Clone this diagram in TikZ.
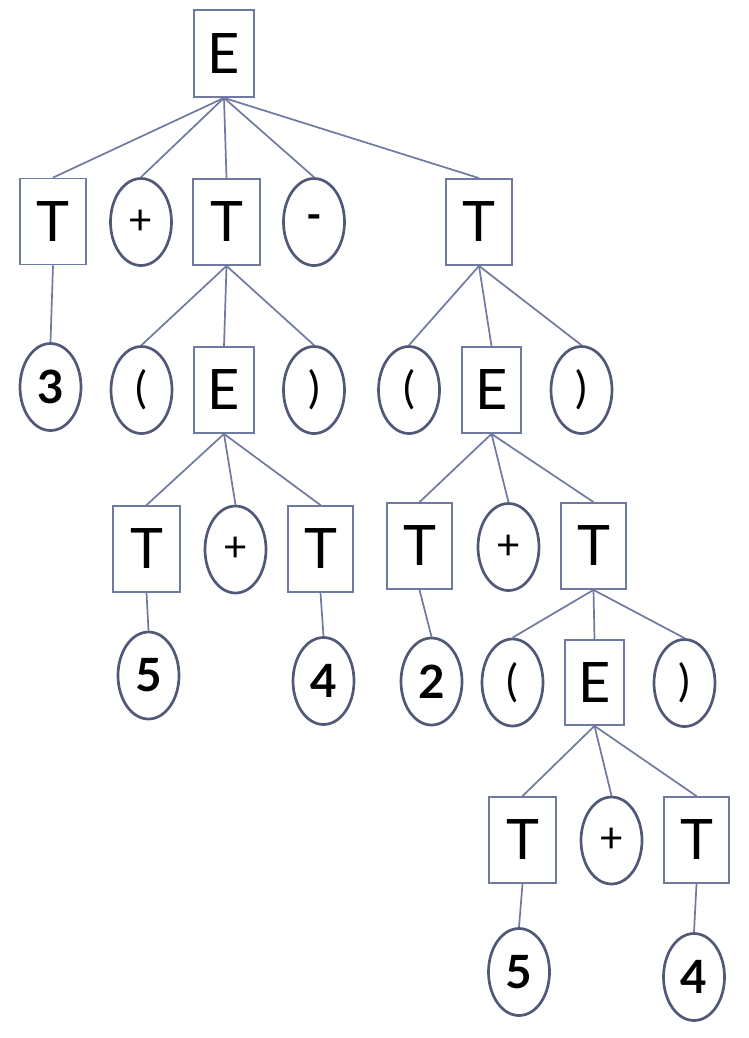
\documentclass[tikz,border=0pt]{standalone}
\usepackage{fontspec}
\setmainfont{Lato}
\usetikzlibrary{shapes.geometric}
\definecolor{rectc}{HTML}{6F79A1}
\definecolor{ellc}{HTML}{525877}
\definecolor{edgec}{HTML}{6F79A1}
\tikzset{
  nt/.style={draw=rectc, line width=1.8bp, fill=white, minimum width=66bp, minimum height=86bp, inner sep=0pt, font=\fontsize{56}{56}\selectfont},
  leaf/.style={ellipse, draw=ellc, line width=2.7bp, fill=white, minimum width=61bp, minimum height=87bp, inner sep=0pt},
  dig/.style={leaf, font=\fontsize{46}{46}\selectfont\bfseries},
  par/.style={leaf, font=\fontsize{44}{44}\selectfont},
  op/.style={leaf, font=\fontsize{42}{42}\selectfont},
  edge/.style={draw=edgec, line width=1.7bp}
}
\begin{document}
\begin{tikzpicture}[x=1bp,y=-1bp]
\useasboundingbox (0,0) rectangle (749,1038);
% row 0
\node[nt, minimum width=60bp, minimum height=87bp] (E0) at (224,53.5) {E};
% row 1
\node[nt] (T1) at (53,221.5) {T};
\node[op] (p1) at (141,222) {+};
\node[nt, minimum width=67bp] (T2) at (226.5,222) {T};
\node[op, font=\fontsize{42}{42}\selectfont\bfseries] (m1) at (314,222) {-};
\node[nt] (T3) at (479,222) {T};
% row 2
\node[dig] (n3) at (50.5,387) {3};
\node[par] (lp1) at (141.5,390) {(};
\node[nt, minimum width=60bp] (E2) at (224,390) {E};
\node[par] (rp1) at (314,390) {)};
\node[par] (lp2) at (409,390) {(};
\node[nt, minimum width=59bp] (E3) at (491.5,390) {E};
\node[par] (rp2) at (581.5,390) {)};
% row 3
\node[nt, minimum width=67bp] (T4) at (146.5,549) {T};
\node[op] (p2) at (235.5,549.5) {+};
\node[nt, minimum width=65bp] (T5) at (320.5,549) {T};
\node[nt, minimum width=65bp] (T6) at (419.5,546) {T};
\node[op] (p3) at (508.5,547) {+};
\node[nt, minimum width=65bp] (T7) at (593.5,546) {T};
% row 4
\node[dig] (n5) at (148.5,675.5) {5};
\node[dig] (n4) at (323.5,681) {4};
\node[dig] (n2) at (431.5,681.5) {2};
\node[par] (lp3) at (512.5,682.5) {(};
\node[nt, minimum width=59bp, minimum height=85bp] (E4) at (594.5,682.5) {E};
\node[par] (rp3) at (684.5,683) {)};
% row 5
\node[nt, minimum width=67bp] (T8) at (522.5,840) {T};
\node[op] (p4) at (611.5,840.5) {+};
\node[nt, minimum width=65bp] (T9) at (696.5,840) {T};
% row 6
\node[dig] (n5b) at (519,972) {5};
\node[dig] (n4b) at (694,977) {4};
% edges
\foreach \a/\b in {E0/T1,E0/p1,E0/T2,E0/m1,E0/T3,
  T1/n3,
  T2/lp1,T2/E2,T2/rp1,
  E2/T4,E2/p2,E2/T5,
  T4/n5,T5/n4,
  T3/lp2,T3/E3,T3/rp2,
  E3/T6,E3/p3,E3/T7,
  T6/n2,
  T7/lp3,T7/E4,T7/rp3,
  E4/T8,E4/p4,E4/T9,
  T8/n5b,T9/n4b}
  \draw[edge] (\a.south) -- (\b.north);
\end{tikzpicture}
\end{document}
